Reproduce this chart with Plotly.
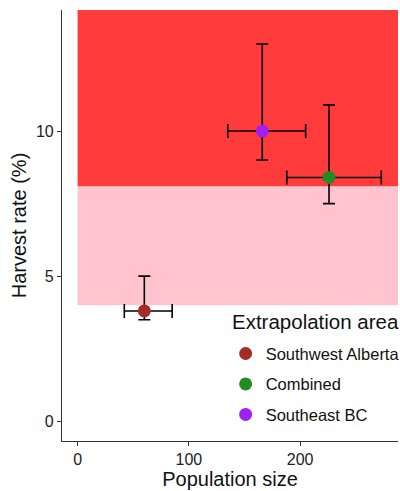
import plotly.graph_objects as go

# ---- data ----
areas = ["Southwest Alberta", "Combined", "Southeast BC"]
colors = ["#A52A2A", "#228B22", "#A020F0"]
pop = [60, 226, 166]
pop_low = [42, 188, 135]
pop_high = [85, 273, 205]
harvest = [3.8, 8.4, 10.0]
harvest_low = [3.5, 7.5, 9.0]
harvest_high = [5.0, 10.9, 13.0]

# threshold zones (harvest rate %)
pink_zone = [4.0, 8.1]
red_zone_start = 8.1
zone_x_start = 0

x_range = [-14, 288]
y_range = [-0.68, 14.17]

fig = go.Figure()

for i, name in enumerate(areas):
    fig.add_trace(go.Scatter(
        x=[pop[i]], y=[harvest[i]],
        mode="markers",
        name=name,
        legendgroup=name,
        marker=dict(color=colors[i], size=13, line=dict(width=0)),
        error_x=dict(type="data", symmetric=False,
                     array=[pop_high[i] - pop[i]],
                     arrayminus=[pop[i] - pop_low[i]],
                     color="black", thickness=1.6, width=7),
        error_y=dict(type="data", symmetric=False,
                     array=[harvest_high[i] - harvest[i]],
                     arrayminus=[harvest[i] - harvest_low[i]],
                     color="black", thickness=1.6, width=6),
    ))

fig.add_shape(type="rect", xref="x", yref="y",
              x0=zone_x_start, x1=x_range[1], y0=pink_zone[0], y1=pink_zone[1],
              fillcolor="#FFC4CE", line=dict(width=0), layer="below")
fig.add_shape(type="rect", xref="x", yref="y",
              x0=zone_x_start, x1=x_range[1], y0=red_zone_start, y1=y_range[1],
              fillcolor="#FF3B3B", line=dict(width=0), layer="below")

axis_common = dict(showgrid=False, zeroline=False, showline=True,
                   linecolor="#333333", linewidth=1.2, ticks="outside",
                   ticklen=4, tickcolor="#333333", tickwidth=1,
                   tickfont=dict(size=16, color="#222222"))

fig.add_annotation(text="Extrapolation area", xref="paper", yref="paper",
                   x=0.5, y=0.278, xanchor="left", yanchor="middle",
                   showarrow=False, font=dict(size=20.5, color="#111111"))

fig.update_layout(
    width=400, height=491,
    margin=dict(l=62, r=2, t=10, b=50, autoexpand=False),
    plot_bgcolor="white", paper_bgcolor="white",
    font=dict(family="Liberation Sans, Arial, sans-serif", color="#111111"),
    xaxis=dict(range=x_range, tickvals=[0, 100, 200],
               title=dict(text="Population size", font=dict(size=20), standoff=4),
               **axis_common),
    yaxis=dict(range=y_range, tickvals=[0, 5, 10],
               title=dict(text="Harvest rate (%)", font=dict(size=20), standoff=3),
               **axis_common),
    legend=dict(x=0.487, y=0.243, xanchor="left", yanchor="top",
                bgcolor="rgba(255,255,255,0)",
                font=dict(size=16.5), tracegroupgap=6),
    showlegend=True,
)

fig.write_html("out.html", config={"displayModeBar": False},
               post_script="document.body.style.margin='0';")
